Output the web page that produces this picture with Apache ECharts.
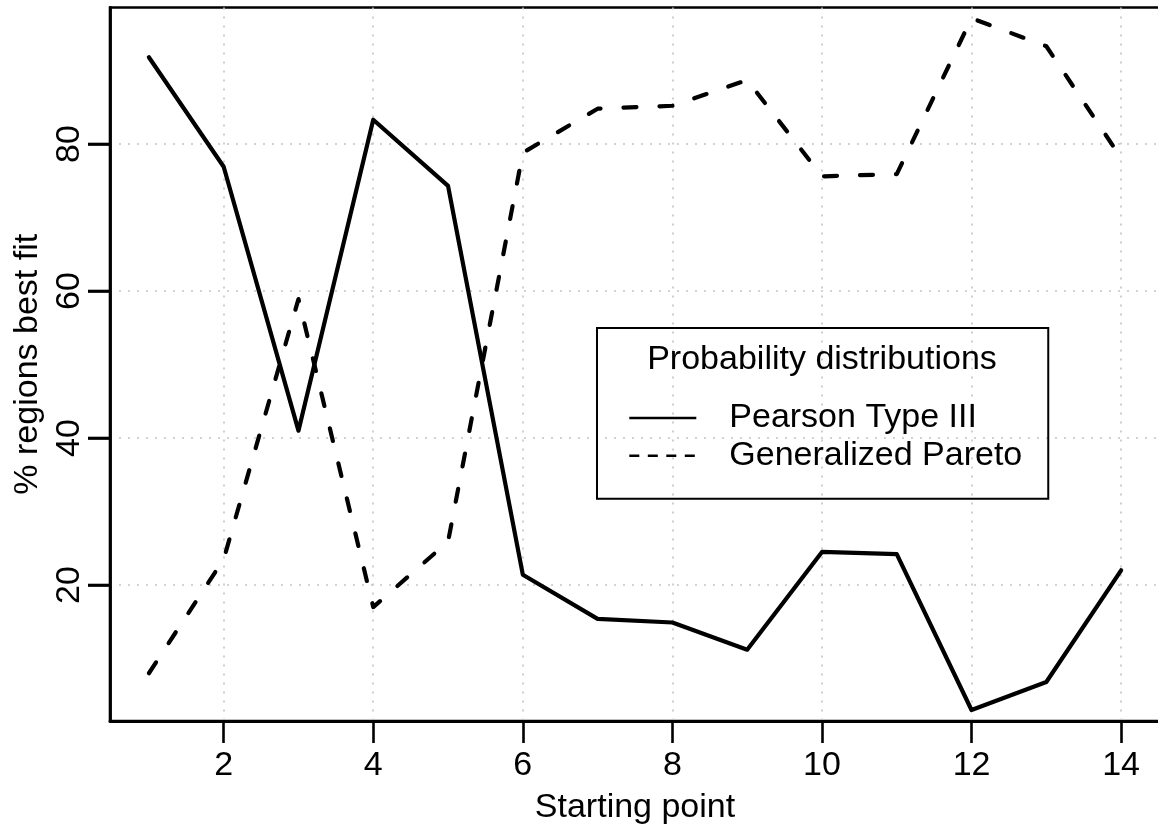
<!DOCTYPE html>
<html>
<head>
<meta charset="utf-8">
<title>Best-fit distribution by starting point</title>
<script src="https://cdn.jsdelivr.net/npm/echarts@6/dist/echarts.min.js"></script>
<style>
  html, body { margin: 0; padding: 0; background: #ffffff; }
  #chart { width: 1158px; height: 829px; }
</style>
</head>
<body>
<div id="chart"></div>
<script>
// Starting points on the x axis
const startingPoints = [1, 2, 3, 4, 5, 6, 7, 8, 9, 10, 11, 12, 13, 14];
// Percentage of regions where each distribution fits best
const pearsonType3 = [91.8, 76.9, 41.0, 83.3, 74.3, 21.4, 15.4, 14.9, 11.2, 24.5, 24.2, 3.0, 6.8, 22.0];
const generalizedPareto = [8.0, 23.5, 58.9, 17.0, 25.9, 78.8, 84.8, 85.2, 88.7, 75.6, 75.9, 97.1, 93.3, 78.1];
// Tick positions
const xTicks = [2, 4, 6, 8, 10, 12, 14];
const yTicks = [20, 40, 60, 80];

const FONT = '"Liberation Sans", Arial, Helvetica, sans-serif';
const X_MIN = 0.48, X_MAX = 14.52;
const Y_MIN = 1.5, Y_MAX = 98.57;
const TICK_LEN = 22;
const toPairs = (ys) => startingPoints.map((x, i) => [x, ys[i]]);

const chart = echarts.init(document.getElementById('chart'), null, { renderer: 'canvas' });

const gridLine = { show: true, lineStyle: { color: '#c4c4c4', width: 1.6, type: [2, 7] } };
const tickStyle = { color: '#000', width: 2.6 };
const hiddenSymbol = { color: 'rgba(0,0,0,0)', borderColor: 'rgba(0,0,0,0)', borderWidth: 0, opacity: 0 };

const legendTitle = {
  id: 'legendTitle', type: 'text', x: 822, y: 360, z: 100,
  style: {
    text: 'Probability distributions', fill: '#000',
    font: '34px ' + FONT, align: 'center', verticalAlign: 'middle',
    textAlign: 'center', textVerticalAlign: 'middle'
  }
};

chart.setOption({
  animation: false,
  backgroundColor: '#ffffff',
  grid: {
    left: 110, top: 7.5, right: -2, bottom: 108,
    show: true, borderColor: '#000', borderWidth: 2.6,
    containLabel: false, outerBoundsMode: 'none'
  },
  xAxis: {
    type: 'value', min: X_MIN, max: X_MAX,
    axisLine: { show: true, onZero: false, lineStyle: { color: '#000', width: 2.8 } },
    axisTick: { show: true, inside: false, interval: 0, customValues: xTicks, length: TICK_LEN, lineStyle: tickStyle },
    axisLabel: { customValues: xTicks, margin: 28, fontSize: 34, color: '#000', fontFamily: FONT },
    splitLine: gridLine,
    name: 'Starting point', nameLocation: 'middle', nameGap: 70,
    nameTextStyle: { fontSize: 34, color: '#000', fontFamily: FONT }
  },
  yAxis: {
    type: 'value', min: Y_MIN, max: Y_MAX,
    axisLine: { show: true, onZero: false, lineStyle: { color: '#000', width: 2.8 } },
    axisTick: { show: true, inside: false, interval: 0, customValues: yTicks, length: TICK_LEN, lineStyle: tickStyle },
    axisLabel: { customValues: yTicks, rotate: 90, margin: 23, fontSize: 34, color: '#000', fontFamily: FONT },
    splitLine: gridLine,
    name: '% regions best fit', nameLocation: 'middle', nameRotate: 90, nameGap: 59,
    nameTextStyle: { fontSize: 34, color: '#000', fontFamily: FONT }
  },
  legend: {
    orient: 'vertical', left: 597, top: 328,
    padding: [73, 26, 26, 31], itemGap: 3.7,
    itemWidth: 67, itemHeight: 34,
    borderColor: '#000', borderWidth: 2, borderRadius: 0,
    selectedMode: false,
    textStyle: { fontSize: 34, color: '#000', fontFamily: FONT, padding: [0, 0, 0, 28] },
    data: [
      { name: 'Pearson Type III', itemStyle: hiddenSymbol, lineStyle: { width: 2.6, type: 'solid', cap: 'butt' } },
      { name: 'Generalized Pareto', itemStyle: hiddenSymbol, lineStyle: { width: 2.6, type: [10, 8.5], cap: 'butt' } }
    ]
  },
  graphic: [legendTitle],
  series: [
    {
      name: 'Pearson Type III', type: 'line', data: toPairs(pearsonType3),
      symbol: 'none', z: 5, itemStyle: { color: '#000' },
      lineStyle: { color: '#000', width: 4.2, cap: 'round', join: 'round' }
    },
    {
      name: 'Generalized Pareto', type: 'line', data: toPairs(generalizedPareto),
      symbol: 'none', z: 5, itemStyle: { color: '#000' },
      lineStyle: { color: '#000', width: 4.2, type: [13, 23], cap: 'round', join: 'round' }
    }
  ]
});

// Outward tick marks on the left axis, positioned through the axis scales
const axisX = chart.convertToPixel({ xAxisIndex: 0 }, X_MIN);
const yTickMarks = yTicks.map((v, i) => {
  const py = chart.convertToPixel({ yAxisIndex: 0 }, v);
  return {
    id: 'yTick' + i, type: 'line', zlevel: 1, z: 100, silent: true,
    shape: { x1: axisX - TICK_LEN, y1: py, x2: axisX, y2: py },
    style: { stroke: tickStyle.color, lineWidth: tickStyle.width }
  };
});
chart.setOption({ graphic: [legendTitle].concat(yTickMarks) });
</script>
</body>
</html>
